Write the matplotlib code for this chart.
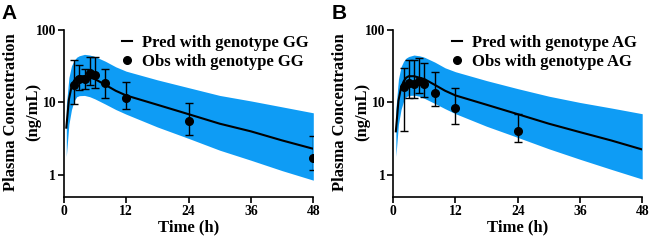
import matplotlib
matplotlib.use("Agg")
import matplotlib.pyplot as plt
from matplotlib.lines import Line2D
from matplotlib.ticker import FixedLocator, NullLocator, FixedFormatter

# ---------------- data ----------------
pred_t = [0.5, 1, 1.5, 2, 2.5, 3, 4, 5, 6, 8, 10, 12, 18, 24, 30, 36, 42, 48]

# Panel A (GG)
predA = [4.5, 11, 16.5, 20, 22, 23, 23, 22, 21, 17.5, 14.5, 12.5, 9.3, 6.9, 5.1, 4.0, 3.0, 2.3]
upA   = [9, 22, 32, 38, 42, 44, 46, 45, 43, 37, 31, 27, 20.5, 16, 12.5, 10.5, 8.7, 7.2]
loA   = [1.8, 5, 8, 10.5, 12, 12.4, 12.5, 12, 11.2, 9.5, 8, 6.9, 4.6, 3.2, 2.2, 1.6, 1.15, 0.85]
obs_tA = [2, 3, 4, 5, 6, 8, 12, 24, 48]
obsA   = [17.5, 21, 21, 25.7, 24, 18.4, 11.5, 5.5, 1.7]
obsA_hi = [38, 33, 29, 42.5, 42.5, 29, 19, 9.8, 3.5]
obsA_lo = [9.5, 15, 15.4, 17.5, 16, 11.7, 8.1, 3.6, 1.17]

# Panel B (AG)
predB = [4.0, 10.5, 16, 19.5, 22, 23, 23, 22, 21, 17.5, 14.5, 12.5, 9.3, 6.9, 5.1, 3.9, 3.0, 2.25]
upB   = [8, 21, 31, 37, 41, 43, 45, 44, 42, 36, 30, 26.5, 20, 15.5, 12.2, 10, 8.4, 7.0]
loB   = [1.8, 5, 8, 10.5, 12, 12.5, 12.6, 12.2, 11.4, 9.7, 8.2, 7.0, 4.7, 3.3, 2.3, 1.65, 1.2, 0.88]
obs_tB = [2, 3, 4, 5, 6, 8, 12, 24]
obsB   = [16.1, 18.3, 17.7, 19.7, 17.7, 13.5, 8.5, 4.1]
obsB_hi = [30, 39, 39, 41, 35, 26, 15.6, 7.0]
obsB_lo = [4.1, 11.7, 11.7, 13.5, 12, 8.8, 5.0, 2.86]

x_ticks = [0, 12, 24, 36, 48]
y_ticks = [1, 10, 100]
y_ticklabels = ["1", "10", "100"]
ylabel_lines = ["Plasma Concentration", "(ng/mL)"]

band_color = "#0E9CF5"
serif = ["Liberation Serif", "DejaVu Serif"]

fig = plt.figure(figsize=(6.5, 2.41), dpi=100)
axA = fig.add_axes([0.098, 0.183, 0.384, 0.693])
axB = fig.add_axes([0.605, 0.183, 0.383, 0.693])

panels = [
    (axA, "A", "GG", predA, upA, loA, obs_tA, obsA, obsA_hi, obsA_lo),
    (axB, "B", "AG", predB, upB, loB, obs_tB, obsB, obsB_hi, obsB_lo),
]

for ax, letter, gt, pred, up, lo, ot, ob, hi, lw in panels:
    ax.fill_between(pred_t, lo, up, color=band_color, linewidth=0, zorder=1)
    ln, = ax.plot(pred_t, pred, color="black", lw=1.5, zorder=3,
                  label=f"Pred with genotype {gt}")
    yerr = [[o - l for o, l in zip(ob, lw)], [h - o for o, h in zip(ob, hi)]]
    ax.errorbar(ot, ob, yerr=yerr, fmt="o", color="black", ms=5.5,
                ecolor="black", elinewidth=1.0, capsize=3, capthick=1.0, zorder=4)
    dot = Line2D([], [], color="black", marker="o", ls="none", ms=5.5,
                 label=f"Obs with genotype {gt}")
    ax.set_yscale("log")
    ax.set_ylim(0.5, 100)
    ax.set_xlim(0, 48)
    ax.xaxis.set_major_locator(FixedLocator(x_ticks))
    ax.yaxis.set_major_locator(FixedLocator(y_ticks))
    ax.yaxis.set_major_formatter(FixedFormatter(y_ticklabels))
    ax.yaxis.set_minor_locator(NullLocator())
    ax.spines["top"].set_visible(False)
    ax.spines["right"].set_visible(False)
    for s in ("left", "bottom"):
        ax.spines[s].set_linewidth(1.2)
    ax.tick_params(axis="both", direction="out", length=4, width=1.2, labelsize=9.8, pad=1.5)
    for lab in ax.get_xticklabels() + ax.get_yticklabels():
        lab.set_fontfamily(serif)
        lab.set_fontweight("bold")
    ax.set_xlabel("Time (h)", fontfamily=serif, fontweight="bold", fontsize=12, labelpad=1.5)
    bbox = ax.get_position()
    ymid = 1 - 112 / 241
    for txt, dx in zip(ylabel_lines, [53, 30.5]):
        fig.text(bbox.x0 - dx / 650, ymid, txt, rotation=90, ha="center", va="center",
                 fontfamily=serif, fontweight="bold", fontsize=12)
    ax.legend(handles=[ln, dot], loc="upper right", bbox_to_anchor=(1.02, 1.03),
              frameon=False, handlelength=0.6, handletextpad=0.6, borderaxespad=0.2,
              labelspacing=0.2,
              prop={"family": serif, "weight": "bold", "size": 12})
    fig.text(bbox.x0 - 0.095, 0.985, letter, fontfamily=["Liberation Sans", "DejaVu Sans"],
             fontweight="bold", fontsize=15, va="top", ha="left")

fig.savefig("out.png", dpi=100)
